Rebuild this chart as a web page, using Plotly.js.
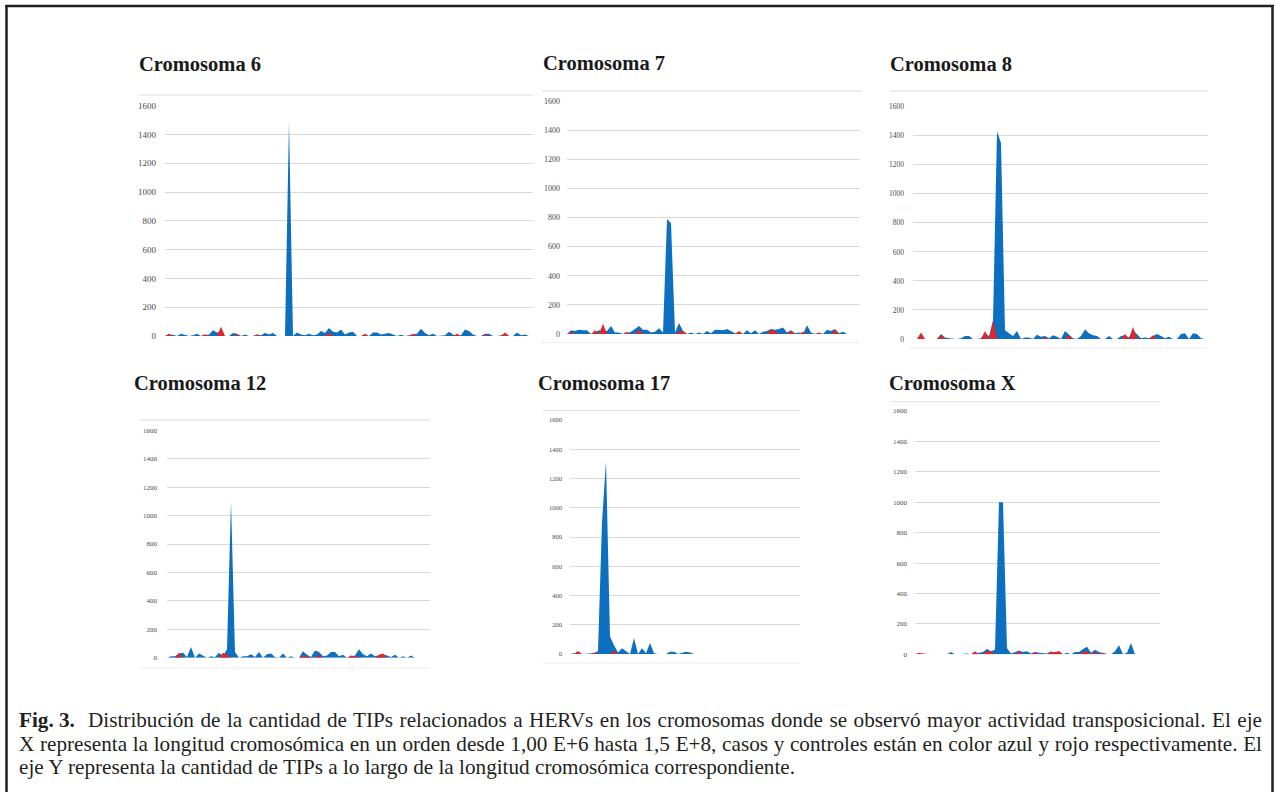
<!DOCTYPE html>
<html>
<head>
<meta charset="utf-8">
<script src="https://cdn.plot.ly/plotly-3.0.1.min.js"></script>
<style>
  html, body { margin:0; padding:0; background:#fff; }
  #wrap { position:relative; width:1275px; height:792px; overflow:hidden; }
  #chart { position:absolute; left:0; top:0; width:1275px; height:792px; }
  .cap { position:absolute; font-family:"Liberation Serif", "Times New Roman", serif; font-size:21.2px;
    line-height:24px; color:#231f20; white-space:nowrap; }
  .just { text-align:justify; text-align-last:justify; }
</style>
</head>
<body>
<div id="wrap">
  <div id="chart"></div>
  <div class="cap" style="left:19px; top:707.5px; font-weight:bold;">Fig. 3.</div>
  <div class="cap just" style="left:88px; top:707.5px; width:1174px;">Distribución de la cantidad de TIPs relacionados a HERVs en los cromosomas donde se observó mayor actividad transposicional. El eje</div>
  <div class="cap just" style="left:19px; top:731.5px; width:1243px;">X representa la longitud cromosómica en un orden desde 1,00 E+6 hasta 1,5 E+8, casos y controles están en color azul y rojo respectivamente. El</div>
  <div class="cap" style="left:19px; top:755px;">eje Y representa la cantidad de TIPs a lo largo de la longitud cromosómica correspondiente.</div>
</div>
<script>
// ---------- DATA (one value per chromosome-position bin) ----------
const chromosomes = ['Cromosoma 6','Cromosoma 7','Cromosoma 8','Cromosoma 12','Cromosoma 17','Cromosoma X'];
const yTicks = [0,200,400,600,800,1000,1200,1400,1600];

// casos (azul)
const blue6 = [0,10,8,0,15,5,0,5,15,0, 5,10,40,25,30,0,0,20,15,0, 10,0,0,10,5,20,10,20,0,0, 0,1490,0,25,10,5,15,5,10,35, 20,55,30,25,45,10,25,30,0,0, 0,0,25,25,10,15,20,10,0,8, 0,5,10,15,50,20,5,15,0,0, 5,30,10,0,5,45,35,10,0,0, 15,15,0,0,5,10,0,0,25,5, 10,0];
// controles (rojo)
const red6 = [0,15,0,0,0,0,0,0,0,0, 12,0,0,0,65,0,0,0,10,0, 0,0,0,10,0,0,0,0,0,0, 0,0,0,0,0,0,0,0,0,0, 0,20,0,0,0,0,0,0,0,0, 15,0,0,0,0,0,0,0,0,0, 0,0,15,0,0,0,0,0,0,0, 0,0,0,15,0,0,0,0,0,0, 10,0,0,0,0,25,0,0,0,0, 0,0];

const blue7 = [0,25,20,30,25,25,0,10,25,20, 20,55,10,10,0,5,15,35,55,30, 30,10,15,40,10,790,760,10,75,20, 0,10,0,10,0,20,5,30,30,25, 35,20,5,10,0,25,5,25,0,15, 20,35,30,35,45,10,25,5,10,0, 60,10,0,5,0,30,20,35,5,15, 0,0,0];
const red7 = [0,15,0,0,0,0,0,25,0,70, 0,0,0,0,0,15,0,0,30,0, 0,0,0,0,0,0,0,0,15,20, 0,0,0,0,0,0,0,0,0,0, 0,0,0,20,0,0,0,0,0,0, 0,30,20,0,0,0,20,0,0,15, 0,0,0,10,0,0,0,30,0,0, 0,0,0];

const blue8 = [0,0,30,0,0,0,0,35,10,5, 0,0,5,20,20,0,0,5,40,20, 120,1430,1350,60,40,20,55,0,10,10, 0,30,15,20,5,25,15,0,55,30, 5,0,20,65,40,25,20,0,0,20, 0,0,20,25,10,60,30,5,10,5, 20,35,20,5,15,0,0,35,40,0, 40,35,5,0];
const red8 = [0,0,45,0,0,0,0,30,0,0, 0,0,5,0,0,0,0,0,55,0, 130,0,0,0,0,0,0,0,0,0, 0,0,0,10,0,0,0,0,0,25, 0,0,0,0,0,0,0,0,0,0, 0,0,0,35,0,85,0,0,0,0, 25,0,0,0,0,0,0,0,0,0, 0,0,0,0];

const blue12 = [0,10,10,30,35,5,75,0,30,15, 0,10,5,35,10,60,1100,40,0,10, 10,25,5,40,0,25,30,5,0,30, 0,10,0,0,45,20,5,50,40,10, 15,40,40,10,20,0,5,15,60,25, 10,30,10,20,25,15,5,20,0,10, 0,15,0,0,0,0];
const red12 = [0,0,0,35,0,0,0,0,0,0, 0,0,0,0,35,25,0,0,0,0, 0,0,0,0,0,0,0,0,0,0, 0,0,0,0,15,10,10,0,20,0, 0,0,0,0,0,0,15,10,0,0, 0,0,0,20,30,0,0,0,0,0, 0,0,0,0,0,0];

const blue17 = [0,5,10,0,0,0,5,20,900,1320, 120,60,10,40,20,0,110,0,40,5, 75,5,0,0,0,15,15,0,10,15, 10,0];
const red17 = [0,0,20,0,0,0,10,0,0,0, 0,20,0,0,0,0,5,0,0,0, 0,0,0,0,0,0,0,0,0,0, 0,0];

const blueX = [0,0,0,0,0,0,0,0,0,15, 0,0,5,5,0,5,15,15,35,20, 30,1000,1000,40,5,15,25,15,20,5, 15,10,5,5,20,5,20,0,10,0, 15,15,35,50,10,30,15,5,0,0, 20,60,0,10,75,0];
const redX = [0,10,5,0,0,0,0,0,0,0, 0,0,0,0,0,20,0,0,20,20, 0,0,0,0,0,0,20,0,0,0, 15,0,0,0,15,15,20,0,0,0, 0,0,15,20,0,15,0,10,0,0, 0,0,0,0,0,0];

const blueSeries = [blue6, blue7, blue8, blue12, blue17, blueX];
const redSeries  = [red6, red7, red8, red12, red17, redX];

// ---------- LAYOUT (pixel geometry of each panel) ----------
const W = 1275, H = 792;
const px = x => x / W;
const py = y => 1 - y / H;

const panels = [
  {x0:165, x1:533,  yZero:336,   yTop:105.7, bins:92,    tick:9,   std:8, tx:137, tb:72,  top:[139,533,95],    bot:null},
  {x0:567, x1:860,  yZero:334,   yTop:101,   bins:73.25, tick:8,   std:6, tx:540.5, tb:71, top:[542,862,91],   bot:[540,860,342.7]},
  {x0:913, x1:1208, yZero:339,   yTop:106.7, bins:73.75, tick:7.5, std:8, tx:888, tb:72,  top:[890,1208,91],   bot:[910,1207,348]},
  {x0:167, x1:430,  yZero:657.7, yTop:430.3, bins:65.75, tick:7,   std:9, tx:131.5, tb:390.5, top:[139,430,420], bot:[139,430,668]},
  {x0:570, x1:800,  yZero:654,   yTop:420,   bins:57.5,  tick:6.5, std:7, tx:535.5, tb:390.5, top:[543,800,410.7], bot:[543,800,663]},
  {x0:915, x1:1160, yZero:654.3, yTop:411,   bins:61.25, tick:7,   std:7, tx:886.5, tb:390.5, top:[891,1160,401.7], bot:null}
];

const BLUE = '#0d6fbf', RED = '#e1252b', GRID = '#d9d9d9';
const traces = [];
const layout = {
  width: W, height: H, margin:{l:0,r:0,t:0,b:0},
  paper_bgcolor:'rgba(0,0,0,0)', plot_bgcolor:'rgba(0,0,0,0)',
  showlegend:false, annotations:[], shapes:[]
};

panels.forEach((p, i) => {
  const n = i === 0 ? '' : String(i + 1);
  const xa = 'x' + n, ya = 'y' + n;
  const blue = blueSeries[i], red = redSeries[i];
  traces.push({type:'scatter', mode:'lines', x:blue.map((_, k) => k), y:blue, xaxis:xa, yaxis:ya,
    fill:'tozeroy', fillcolor:BLUE, line:{width:0, color:BLUE}, hoverinfo:'skip'});
  traces.push({type:'scatter', mode:'lines', x:red.map((_, k) => k), y:red, xaxis:xa, yaxis:ya,
    fill:'tozeroy', fillcolor:RED, line:{width:0, color:RED}, hoverinfo:'skip'});

  layout['xaxis' + n] = {domain:[px(p.x0), px(p.x1)], range:[0, p.bins], anchor:ya,
    showgrid:false, zeroline:false, showticklabels:false, ticks:'', showline:false, fixedrange:true};
  layout['yaxis' + n] = {domain:[py(p.yZero), py(p.yTop)], range:[0, 1600], anchor:xa,
    tickvals:yTicks, ticktext:yTicks.map(String), showgrid:true, gridcolor:GRID, gridwidth:1,
    zeroline:false, showline:false, ticks:'', ticklabelstandoff:p.std,
    tickfont:{family:'Liberation Serif, serif', size:p.tick, color:'#4a4a4a'}, fixedrange:true};

  layout.annotations.push({text:'<b>' + chromosomes[i] + '</b>', xref:'paper', yref:'paper',
    x:px(p.tx), y:py(p.tb + 5), xanchor:'left', yanchor:'bottom', showarrow:false,
    font:{family:'Liberation Serif, serif', size:20.5, color:'#1a1a1a'}});

  layout.shapes.push({type:'line', xref:'paper', yref:'paper', x0:px(p.top[0]), x1:px(p.top[1]),
    y0:py(p.top[2]), y1:py(p.top[2]), line:{color:'#dcdcdc', width:1}});
  if (p.bot) layout.shapes.push({type:'line', xref:'paper', yref:'paper', x0:px(p.bot[0]), x1:px(p.bot[1]),
    y0:py(p.bot[2]), y1:py(p.bot[2]), line:{color:'#ececec', width:1}});
});

// outer frame (left, top, right)
const FRAME = '#231f20';
layout.shapes.push({type:'line', xref:'paper', yref:'paper', x0:px(6.5), x1:px(6.5), y0:py(5), y1:py(792), line:{color:FRAME, width:2.5}});
layout.shapes.push({type:'line', xref:'paper', yref:'paper', x0:px(5.3), x1:px(1273.7), y0:py(6), y1:py(6), line:{color:FRAME, width:2.5}});
layout.shapes.push({type:'line', xref:'paper', yref:'paper', x0:px(1272.5), x1:px(1272.5), y0:py(5), y1:py(792), line:{color:FRAME, width:2.5}});

Plotly.newPlot('chart', traces, layout, {staticPlot:true, displayModeBar:false});
</script>
</body>
</html>
